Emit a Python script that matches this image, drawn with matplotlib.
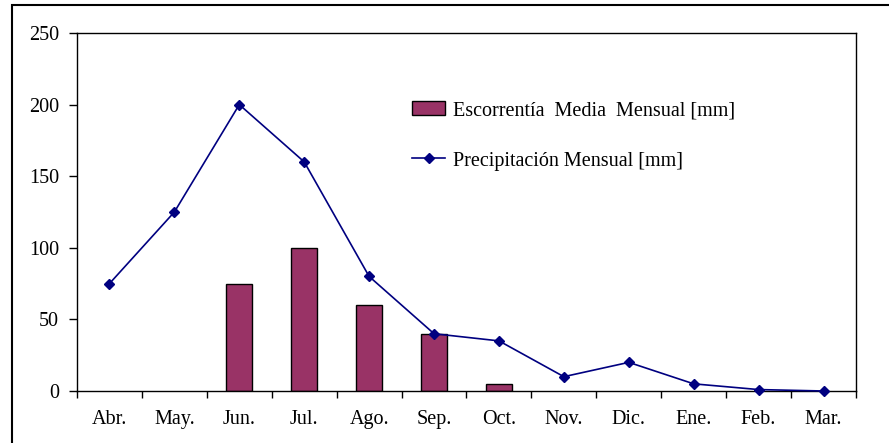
import matplotlib
matplotlib.use("Agg")
import numpy as np
from matplotlib import pyplot as plt
from matplotlib.patches import Rectangle

# data
months = ["Abr.", "May.", "Jun.", "Jul.", "Ago.", "Sep.", "Oct.",
          "Nov.", "Dic.", "Ene.", "Feb.", "Mar."]
escorrentia = [0, 0, 75, 100, 60, 40, 5, 0, 0, 0, 0, 0]
precipitacion = [75, 125, 200, 160, 80, 40, 35, 10, 20, 5, 1, 0]
yticks = [0, 50, 100, 150, 200, 250]

plt.rcParams['font.family'] = ['Liberation Serif', 'DejaVu Serif']
plt.rcParams['font.size'] = 14.5

fig = plt.figure(figsize=(8.89, 4.43), dpi=100)
W, H = 889, 443
ax = fig.add_axes([77 / W, 1 - 391 / H, (856 - 77) / W, (391 - 33) / H])

x = np.arange(len(months))
edges = ["black" if v > 0 else "none" for v in escorrentia]
bars = ax.bar(x, escorrentia, width=0.4, color="#993366", edgecolor=edges,
              linewidth=1.0, label="Escorrentía  Media  Mensual [mm]", zorder=2)
line, = ax.plot(x, precipitacion, color="#000080", linewidth=1.2, marker="D",
                markersize=5, label="Precipitación Mensual [mm]", zorder=3,
                clip_on=False)

ax.set_xlim(-0.5, len(months) - 0.5)
ax.set_ylim(0, 250)
ax.set_yticks(yticks)
ax.set_xticks(x)
ax.set_xticklabels(months)
ax.set_xticks(np.arange(-0.5, len(months)), minor=True)
ax.tick_params(axis="x", which="major", length=0, pad=14)
ax.tick_params(axis="x", which="minor", length=5, width=1, direction="out")
ax.tick_params(axis="y", length=6, width=1, direction="out", pad=7)
for s in ax.spines.values():
    s.set_linewidth(1.0)

leg = ax.legend([bars, line], [bars.get_label(), line.get_label()],
                loc="upper left", bbox_to_anchor=(394 / W, 1 - 83 / H),
                bbox_transform=fig.transFigure, frameon=False,
                handlelength=1.65, handleheight=0.7, handletextpad=0.4,
                labelspacing=1.55, fontsize=14.5)
leg.legend_handles[0].set_edgecolor("black")

# outer frame of the picture (cut at right and bottom)
fig.patches.append(Rectangle((12 / W, -0.1), 1.0, 1 - 5 / H + 0.1,
                             transform=fig.transFigure, fill=False,
                             edgecolor="black", linewidth=1.5))

fig.savefig("out.png", dpi=100)
